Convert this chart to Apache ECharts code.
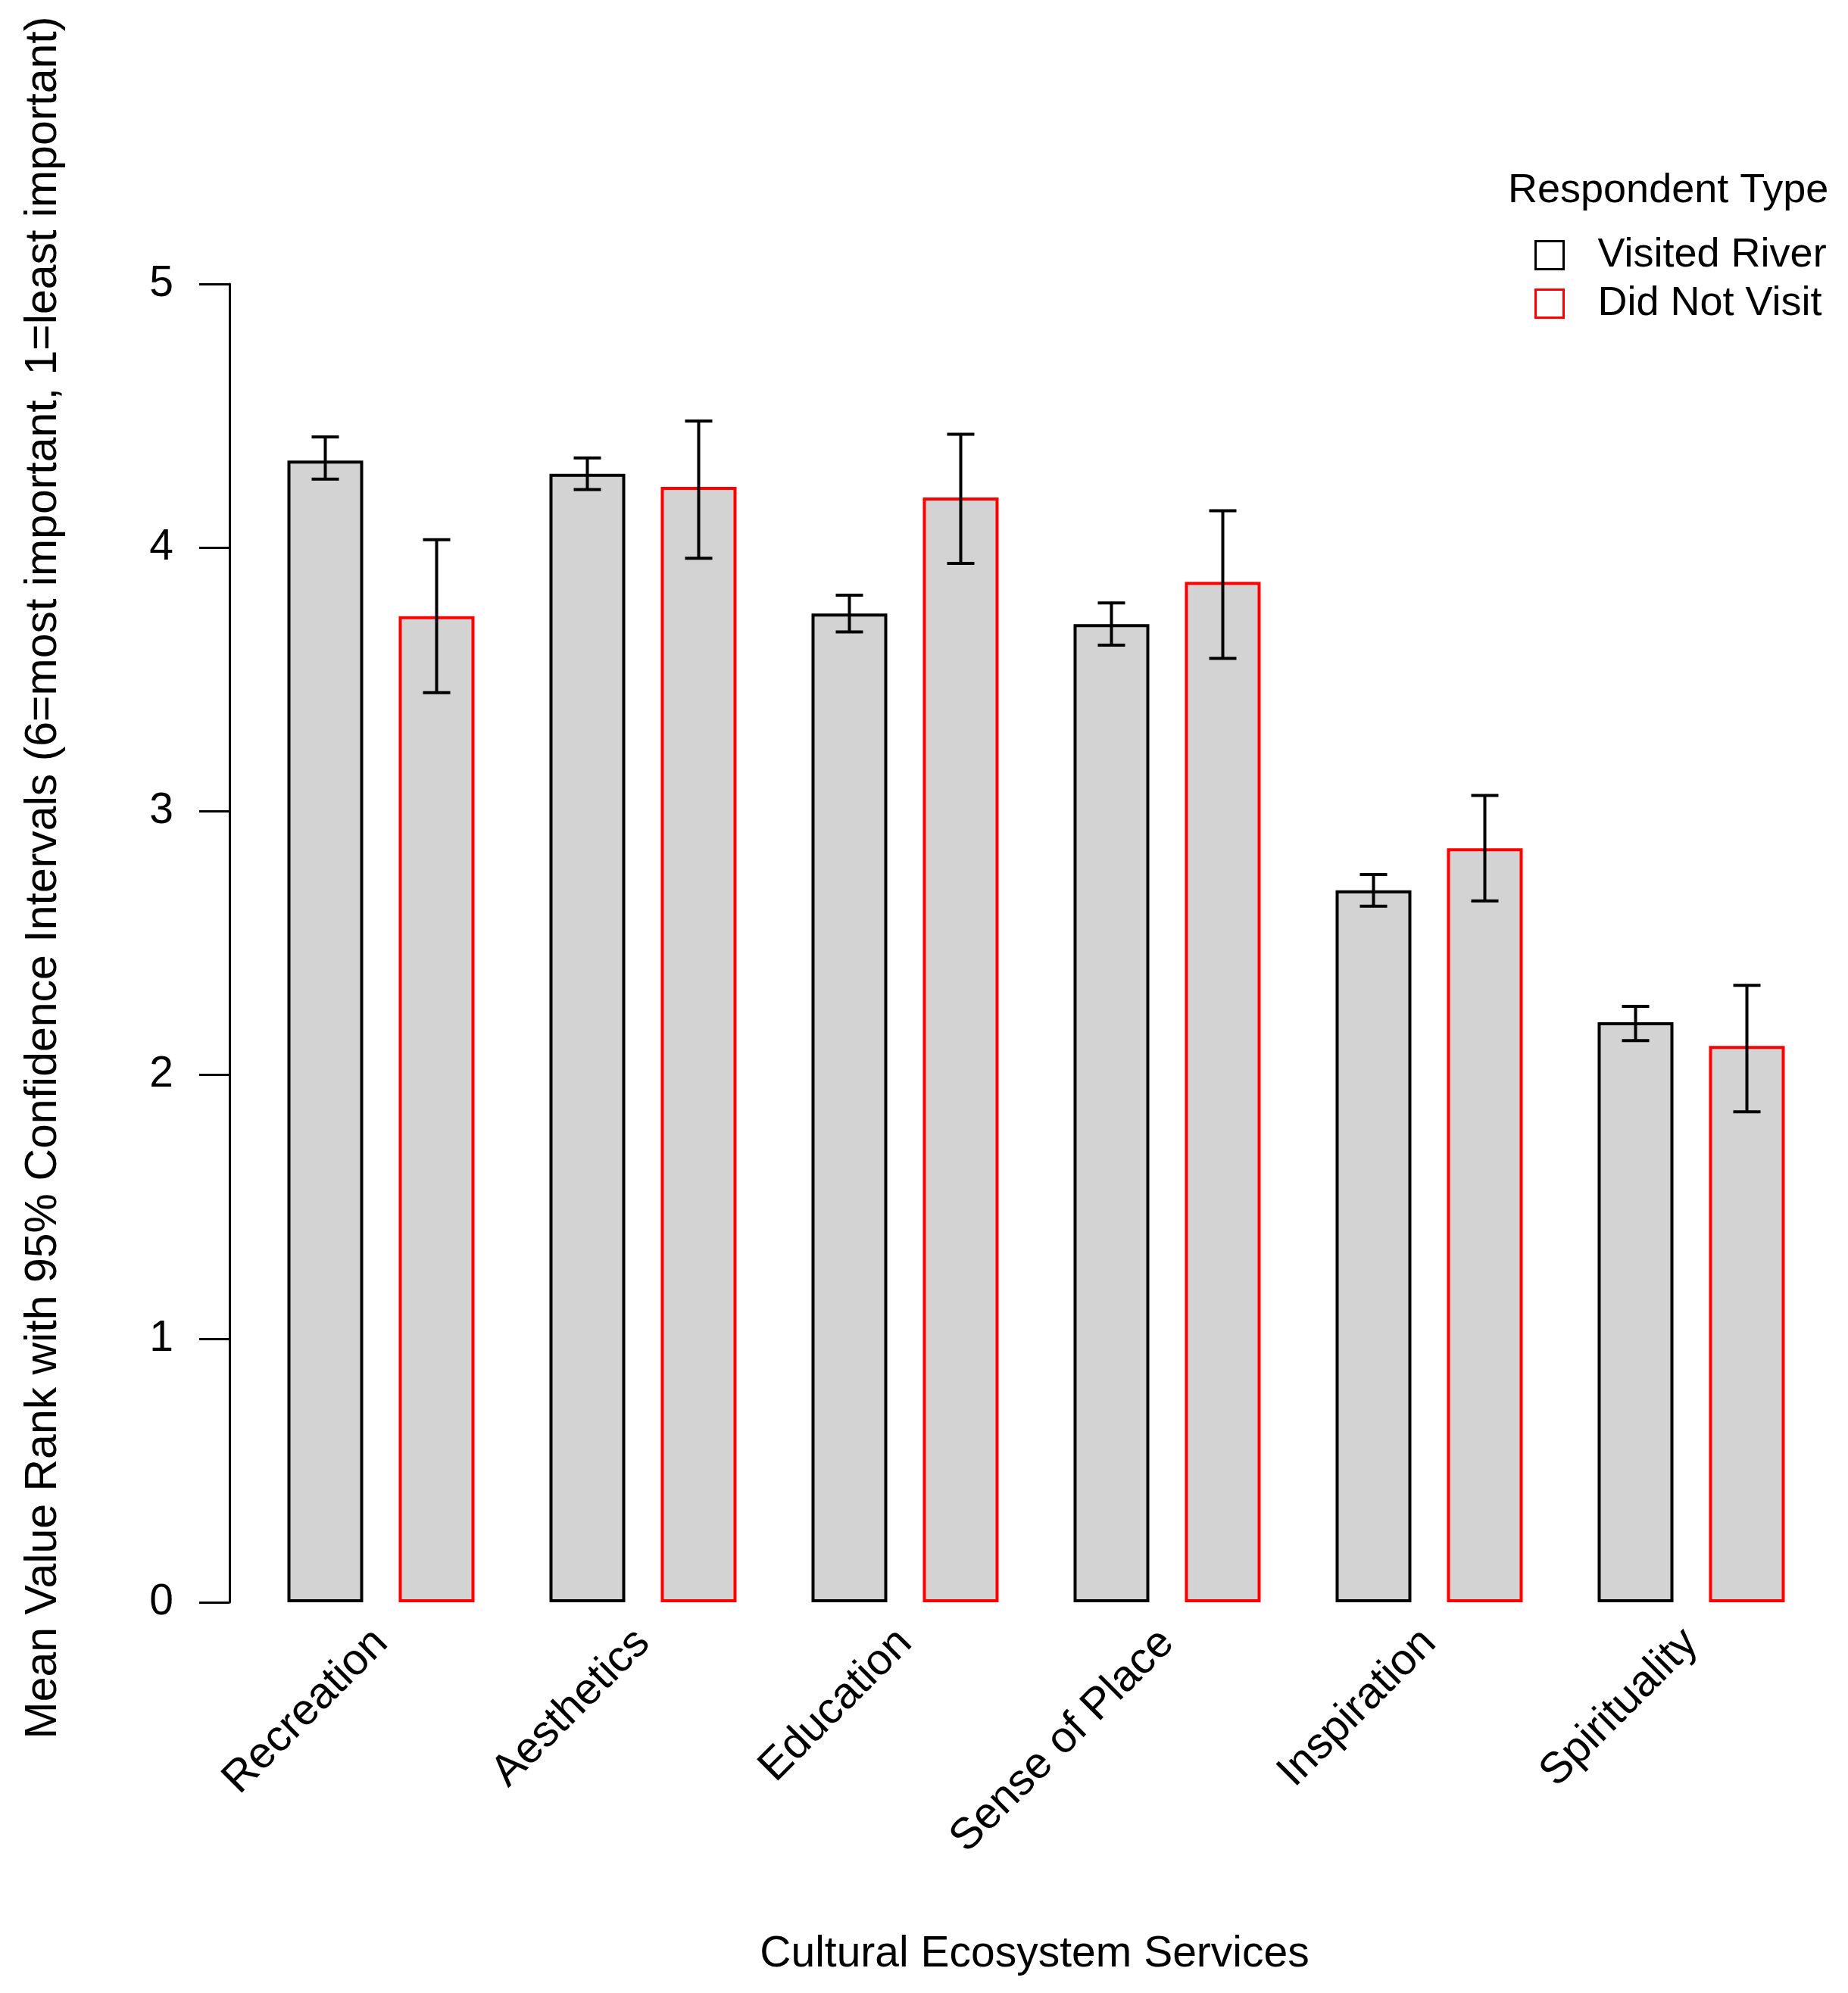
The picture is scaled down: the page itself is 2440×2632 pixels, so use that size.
<!DOCTYPE html>
<html>
<head>
<meta charset="utf-8">
<script src="https://cdn.jsdelivr.net/npm/echarts@6/dist/echarts.min.js"></script>
<style>
html,body{margin:0;padding:0;background:#fff;}
#chart{width:2440px;height:2632px;}
</style>
</head>
<body>
<div id="chart"></div>
<script>
const categories = ['Recreation', 'Aesthetics', 'Education', 'Sense of Place', 'Inspiration', 'Spirituality'];
const visitedMean = [4.33, 4.28, 3.75, 3.71, 2.70, 2.20];
const visitedLow = [4.26, 4.22, 3.68, 3.63, 2.64, 2.13];
const visitedHigh = [4.42, 4.34, 3.82, 3.79, 2.76, 2.26];
const notVisitedMean = [3.74, 4.23, 4.19, 3.87, 2.86, 2.11];
const notVisitedLow = [3.45, 3.96, 3.94, 3.58, 2.66, 1.86];
const notVisitedHigh = [4.03, 4.48, 4.43, 4.14, 3.06, 2.34];
const yTicks = [0, 1, 2, 3, 4, 5];
const seriesNames = ['Visited River', 'Did Not Visit'];
const legendTitle = 'Respondent Type';
const xTitle = 'Cultural Ecosystem Services';
const yTitle = 'Mean Value Rank with 95% Confidence Intervals (6=most important, 1=least important)';

const FONT = 'Liberation Sans, Arial, sans-serif';
const BAR_W = 100, BAR_GAP = 47;

function errData(low, high) {
  return categories.map((c, i) => [i, low[i], high[i]]);
}
function makeErr(sign) {
  return function (params, api) {
    const x = api.value(0);
    const lo = api.coord([x, api.value(1)]);
    const hi = api.coord([x, api.value(2)]);
    const cx = lo[0] + sign * (BAR_W + BAR_GAP) / 2;
    const cap = 18;
    const st = { stroke: '#000', lineWidth: 4 };
    return {
      type: 'group',
      children: [
        { type: 'line', shape: { x1: cx, y1: hi[1], x2: cx, y2: lo[1] }, style: st },
        { type: 'line', shape: { x1: cx - cap, y1: hi[1], x2: cx + cap, y2: hi[1] }, style: st },
        { type: 'line', shape: { x1: cx - cap, y1: lo[1], x2: cx + cap, y2: lo[1] }, style: st }
      ]
    };
  };
}

const chart = echarts.init(document.getElementById('chart'), null, { renderer: 'canvas' });
chart.setOption({
  animation: false,
  backgroundColor: '#fff',
  textStyle: { fontFamily: FONT },
  title: {
    text: legendTitle, left: 1991, top: 225, padding: 0,
    textStyle: { fontFamily: FONT, fontSize: 54, fontWeight: 'normal', color: '#000' }
  },
  legend: {
    orient: 'vertical', left: 2026, top: 310, padding: 0, itemGap: 10,
    itemWidth: 37, itemHeight: 37, selectedMode: false,
    textStyle: { fontFamily: FONT, fontSize: 54, color: '#000', padding: [0, 0, 0, 40] },
    data: [
      { name: seriesNames[0], icon: 'rect', itemStyle: { color: '#fff', borderColor: '#000', borderWidth: 3 } },
      { name: seriesNames[1], icon: 'rect', itemStyle: { color: '#fff', borderColor: '#ff0000', borderWidth: 3 } }
    ]
  },
  grid: { left: 330, right: 34, top: 375, bottom: 516, containLabel: false },
  xAxis: {
    type: 'category', data: categories,
    axisLine: { show: false }, axisTick: { show: false },
    axisLabel: { rotate: 45, margin: 45, fontSize: 58, color: '#000', fontFamily: FONT, interval: 0 }
  },
  yAxis: {
    type: 'value', min: 0, max: 5, interval: 1, offset: 27,
    axisLine: { show: true, lineStyle: { color: '#000', width: 3 } },
    axisTick: { show: true, length: 40, lineStyle: { color: '#000', width: 3 } },
    splitLine: { show: false },
    axisLabel: { fontSize: 57, color: '#000', margin: 74, fontFamily: FONT,
      formatter: v => yTicks.includes(v) ? String(v) : '' }
  },
  graphic: [
    { type: 'text', x: 58, y: 1159, rotation: Math.PI / 2,
      style: { text: yTitle, fontSize: 59, fontFamily: FONT, fill: '#000', textAlign: 'center', textVerticalAlign: 'middle' } },
    { type: 'text', x: 1366, y: 2581,
      style: { text: xTitle, fontSize: 57, fontFamily: FONT, fill: '#000', textAlign: 'center', textVerticalAlign: 'middle' } }
  ],
  series: [
    { name: seriesNames[0], type: 'bar', data: visitedMean, barWidth: BAR_W, barGap: '47%',
      itemStyle: { color: '#d3d3d3', borderColor: '#000', borderWidth: 4 } },
    { name: seriesNames[1], type: 'bar', data: notVisitedMean, barWidth: BAR_W, barGap: '47%',
      itemStyle: { color: '#d3d3d3', borderColor: '#ff0000', borderWidth: 4 } },
    { type: 'custom', name: 'errV', data: errData(visitedLow, visitedHigh), renderItem: makeErr(-1),
      encode: { x: 0, y: [1, 2] }, z: 5, silent: true },
    { type: 'custom', name: 'errN', data: errData(notVisitedLow, notVisitedHigh), renderItem: makeErr(1),
      encode: { x: 0, y: [1, 2] }, z: 5, silent: true }
  ]
});
</script>
</body>
</html>
